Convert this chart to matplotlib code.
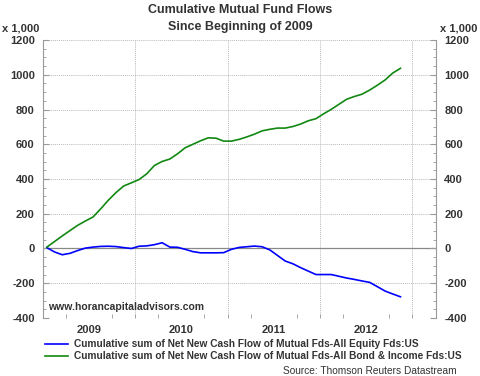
import numpy as np
import matplotlib.pyplot as plt
from matplotlib.ticker import MultipleLocator, FixedLocator

# monthly data, Jan 2009 .. Nov 2012 (values x 1,000)
months = np.arange(47)
equity = [5, -20, -36, -28, -12, 2, 8, 12, 13, 11, 5, 0,
          13, 15, 22, 33, 8, 7, -5, -18, -25, -25, -25, -24,
          -5, 6, 10, 14, 10, -8, -40, -72, -88, -110, -130, -150,
          -150, -150, -160, -170, -178, -187, -195, -220, -245, -262, -278]
bond = [8, 40, 72, 103, 133, 158, 181, 228, 278, 322, 360, 378,
        397, 430, 478, 501, 515, 545, 580, 600, 620, 637, 635, 618,
        618, 628, 642, 658, 677, 686, 693, 693, 702, 716, 735, 747,
        775, 801, 830, 859, 875, 888, 912, 940, 970, 1010, 1037]
years = ["2009", "2010", "2011", "2012"]

plt.rcParams['font.family'] = ['Liberation Sans', 'DejaVu Sans']
txt = "#333333"

fig = plt.figure(figsize=(4.8, 3.76), dpi=100)
ax = fig.add_axes([0.0896, 0.1543, 0.8187, 0.7393])

t = 2009 + (months + 0.5) / 12
ax.plot(t, equity, color="#0000ff", lw=1.2)
ax.plot(t, bond, color="#118811", lw=1.2)

ax.set_xlim(2009, 2013.26)
ax.set_ylim(-400, 1200)

ax.axhline(0, color="#888888", lw=0.9, zorder=1)
for y in range(-400, 1201, 200):
    if y != 0:
        ax.axhline(y, color="#bbbbbb", lw=0.7, ls=(0, (1, 1)), zorder=0)
for x in [2010, 2011, 2012, 2013]:
    ax.axvline(x, color="#bbbbbb", lw=0.7, ls=(0, (1, 1)), zorder=0)

for s in ["top", "bottom"]:
    ax.spines[s].set_visible(False)
for s in ["left", "right"]:
    ax.spines[s].set_color("#999999")
    ax.spines[s].set_linewidth(0.8)

ax.yaxis.set_minor_locator(MultipleLocator(50))
ax.set_yticks(range(-400, 1201, 200))
ax.set_yticklabels([str(v) for v in range(-400, 1201, 200)], fontweight="bold")
ax.tick_params(axis="y", which="both", direction="in", color="#999999",
               labelsize=8, labelcolor=txt, left=True, right=True,
               labelleft=True, labelright=True, pad=6)
ax.tick_params(axis="y", which="major", length=4)
ax.tick_params(axis="y", which="minor", length=2)

ax.xaxis.set_major_locator(FixedLocator([2009.5, 2010.5, 2011.5, 2012.5]))
ax.set_xticklabels(years, fontweight="bold")
ax.xaxis.set_minor_locator(FixedLocator([2009 + q / 4 for q in range(1, 17)]))
ax.tick_params(axis="x", which="major", length=0, labelsize=8,
               labelcolor=txt, pad=5)
ax.tick_params(axis="x", which="minor", direction="in", length=3,
               color="#999999")

fig.text(0.5, 0.973, "Cumulative Mutual Fund Flows", ha="center", va="center",
         fontsize=9, fontweight="bold", color=txt)
fig.text(0.5, 0.928, "Since Beginning of 2009", ha="center", va="center",
         fontsize=9, fontweight="bold", color=txt)
fig.text(0.005, 0.925, "x 1,000", ha="left", va="center", fontsize=8,
         fontweight="bold", color=txt)
fig.text(0.995, 0.925, "x 1,000", ha="right", va="center", fontsize=8,
         fontweight="bold", color=txt)

ax.text(0.012, 0.04, "www.horancapitaladvisors.com", transform=ax.transAxes,
        fontsize=7.5, fontweight="bold", color=txt, ha="left", va="center")

leg = fig.legend(["Cumulative sum of Net New Cash Flow of Mutual Fds-All Equity Fds:US",
                  "Cumulative sum of Net New Cash Flow of Mutual Fds-All Bond & Income Fds:US"],
                 loc="upper left", bbox_to_anchor=(0.094, 0.098), frameon=False,
                 fontsize=7.3, handlelength=2.25, handletextpad=0.6, labelspacing=0.2,
                 borderpad=0, borderaxespad=0)
for tx in leg.get_texts():
    tx.set_fontweight("bold")
    tx.set_color(txt)

fig.text(0.952, 0.013, "Source: Thomson Reuters Datastream", ha="right",
         va="center", fontsize=7.3, color=txt)

fig.savefig("out.png", dpi=100)
